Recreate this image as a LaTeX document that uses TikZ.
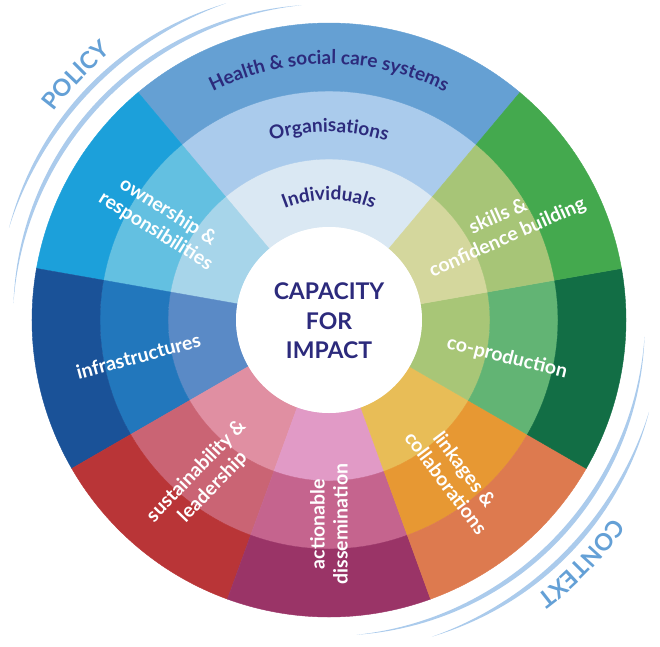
\documentclass[tikz,border=0pt]{standalone}
\usepackage{fontspec}
\setmainfont{Lato}
\usetikzlibrary{decorations.text}

\definecolor{navy}{RGB}{44,42,124}
\definecolor{ringline}{RGB}{171,203,236}
\definecolor{ringtext}{RGB}{100,160,214}
% segment colours, inner ring (A) to outer ring (C)
\definecolor{topA}{RGB}{218,232,243}
\definecolor{topB}{RGB}{170,203,236}
\definecolor{topC}{RGB}{101,160,211}
\definecolor{ownA}{RGB}{167,213,234}
\definecolor{ownB}{RGB}{99,192,225}
\definecolor{ownC}{RGB}{28,160,218}
\definecolor{infA}{RGB}{90,138,198}
\definecolor{infB}{RGB}{34,119,188}
\definecolor{infC}{RGB}{26,82,152}
\definecolor{susA}{RGB}{224,143,162}
\definecolor{susB}{RGB}{202,100,116}
\definecolor{susC}{RGB}{185,53,55}
\definecolor{actA}{RGB}{225,154,198}
\definecolor{actB}{RGB}{197,100,142}
\definecolor{actC}{RGB}{154,52,103}
\definecolor{linA}{RGB}{232,189,87}
\definecolor{linB}{RGB}{231,152,51}
\definecolor{linC}{RGB}{221,122,79}
\definecolor{copA}{RGB}{168,198,119}
\definecolor{copB}{RGB}{98,180,116}
\definecolor{copC}{RGB}{18,110,69}
\definecolor{skiA}{RGB}{212,215,157}
\definecolor{skiB}{RGB}{167,197,119}
\definecolor{skiC}{RGB}{68,169,78}

\newcommand{\lvlfont}{\fontsize{19}{19}\selectfont\bfseries\color{navy}}
\newcommand{\ctxfont}{\fontsize{23.5}{23.5}\selectfont\bfseries\color{ringtext}}

\tikzset{
  seglabel/.style={font=\fontsize{19.5}{23}\selectfont\bfseries, text=white, align=center, inner sep=0pt},
}

\begin{document}
\begin{tikzpicture}[x=1pt,y=1pt]
    \useasboundingbox (-329,-326) rectangle (331,320);
    % wheel
    \foreach \a/\b/\s in {50/130/top, 130/170/own, 170/210/inf, 210/250/sus, 250/290/act, 290/330/lin, 330/370/cop, 10/50/ski} {
      \foreach \ri/\ro/\lv in {93/161/A, 161/229/B, 229/297/C} {
        \filldraw[fill=\s\lv, draw=\s\lv, line width=0.4pt] (\a:\ri) arc[start angle=\a, end angle=\b, radius=\ri] -- (\b:\ro) arc[start angle=\b, end angle=\a, radius=\ro] -- cycle;
      }
    }
    \fill[white] (0,0) circle (93);
    \node[font=\fontsize{23}{29.5}\selectfont\bfseries, text=navy, align=center] (core) at (0,-1) {CAPACITY\\FOR\\IMPACT};
    % levels
    \path[decorate, decoration={text along path, text align=center, text={|\lvlfont|Health {\&} social care systems}}] (150:256) arc[start angle=150, end angle=30, radius=256];
    \path[decorate, decoration={text along path, text align=center, text={|\lvlfont|Organisations}}] (150:188) arc[start angle=150, end angle=30, radius=188];
    \path[decorate, decoration={text along path, text align=center, text={|\lvlfont|Individuals}}] (150:120) arc[start angle=150, end angle=30, radius=120];
    % segments
    \node[seglabel, rotate=24] (skills) at (28:197) {skills \&\\confidence building};
    \node[seglabel, rotate=-14] (coprod) at (-12:182) {co-production};
    \node[seglabel, rotate=-53] (links) at (-51:201) {linkages \&\\collaborations};
    \node[seglabel, rotate=90] (dissem) at (270:204) {actionable\\dissemination};
    \node[seglabel, rotate=46] (sustain) at (232:202) {sustainability \&\\leadership};
    \node[seglabel, rotate=15] (infra) at (190.7:194) {infrastructures};
    \node[seglabel, rotate=-32] (owner) at (149.5:194) {ownership \&\\responsibilities};
    % policy / context arcs
    \foreach \a/\b/\r in {95/177/316, 108/164/333, -85/-3/316, -72/-16/333} {
      \fill[ringline] plot[domain=\a:\b, samples=60] (\x:{\r-2.5*sin((\x-\a)*180/(\b-\a))}) -- plot[domain=\b:\a, samples=60] (\x:{\r+2.5*sin((\x-\a)*180/(\b-\a))}) -- cycle;
    }
    \path[decorate, decoration={text along path, text align=center, text={|\ctxfont|POLICY}}] (170:345) arc[start angle=170, end angle=102, radius=345];
    \path[decorate, decoration={text along path, text align=center, text={|\ctxfont|CONTEXT}}] (-10:345) arc[start angle=-10, end angle=-78, radius=345];
\end{tikzpicture}
\end{document}
